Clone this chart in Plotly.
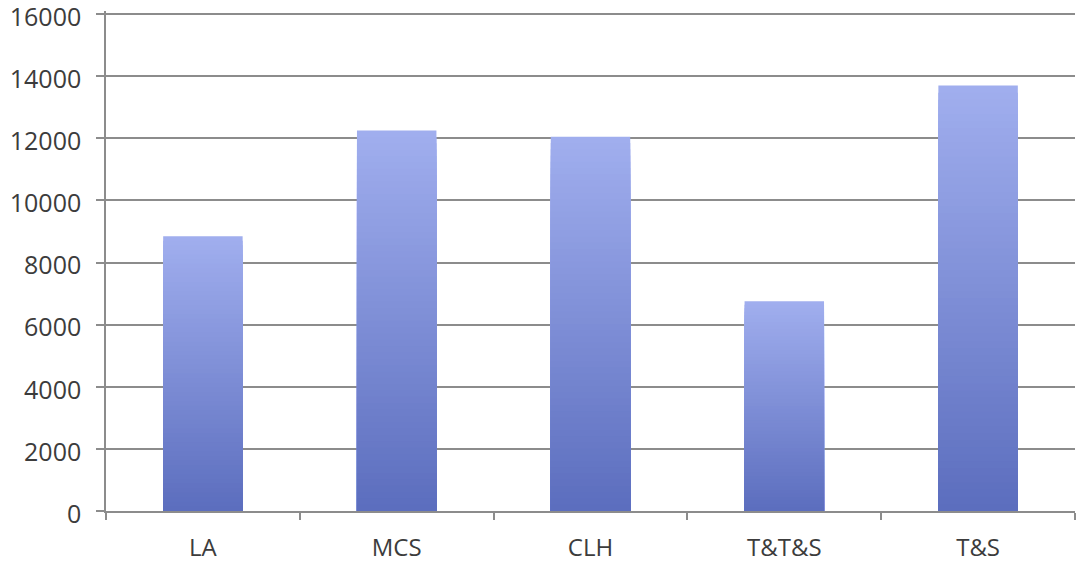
import plotly.graph_objects as go

# Category totals
categories = ["LA", "MCS", "CLH", "T&T&S", "T&S"]
values = [8850, 12250, 12050, 6750, 13700]

y_ticks = [0, 2000, 4000, 6000, 8000, 10000, 12000, 14000, 16000]

# Vertical shading of each column: light at the top, darker towards the base
top_rgb = (160, 174, 238)
bottom_rgb = (92, 110, 190)
steps = 60


def mix(a, b, t):
    return "rgb({},{},{})".format(*[round(a[i] + (b[i] - a[i]) * t) for i in range(3)])


fig = go.Figure()
# Overlaid columns: the tallest (lightest) first, each shorter one darker on top
for k in range(steps):
    frac = 1 - k / steps
    fig.add_trace(go.Bar(
        x=categories,
        y=[v * frac for v in values],
        width=0.41,
        marker=dict(color=mix(top_rgb, bottom_rgb, k / (steps - 1)), line=dict(width=0)),
        showlegend=False,
        hoverinfo="skip" if k else "y",
    ))

fig.update_layout(
    barmode="overlay",
    width=1079,
    height=566,
    margin=dict(l=106, r=4, t=11, b=55),
    paper_bgcolor="white",
    plot_bgcolor="white",
    font=dict(family="Open Sans, Liberation Sans, sans-serif", color="#3c3c3c"),
)

fig.update_yaxes(
    range=[0, 16100],
    tickvals=y_ticks,
    ticktext=[str(t) for t in y_ticks],
    showgrid=True,
    gridcolor="#8c8c8c",
    gridwidth=1.5,
    zeroline=False,
    showline=True,
    linecolor="#8c8c8c",
    linewidth=1.5,
    ticks="outside",
    ticklen=8,
    tickcolor="#8c8c8c",
    tickwidth=1.5,
    tickfont=dict(size=25, color="#3c3c3c"),
    ticklabelstandoff=10,
    ticklabelshift=3,
    ticklabeloverflow="allow",
    automargin=False,
)

fig.update_xaxes(
    type="category",
    showgrid=False,
    showline=True,
    linecolor="#8c8c8c",
    linewidth=1.5,
    ticks="outside",
    tickson="boundaries",
    ticklen=7,
    tickcolor="#8c8c8c",
    tickwidth=1.5,
    tickfont=dict(size=24, color="#3c3c3c"),
    ticklabelstandoff=14,
    automargin=False,
)

fig.write_html("out.html")
